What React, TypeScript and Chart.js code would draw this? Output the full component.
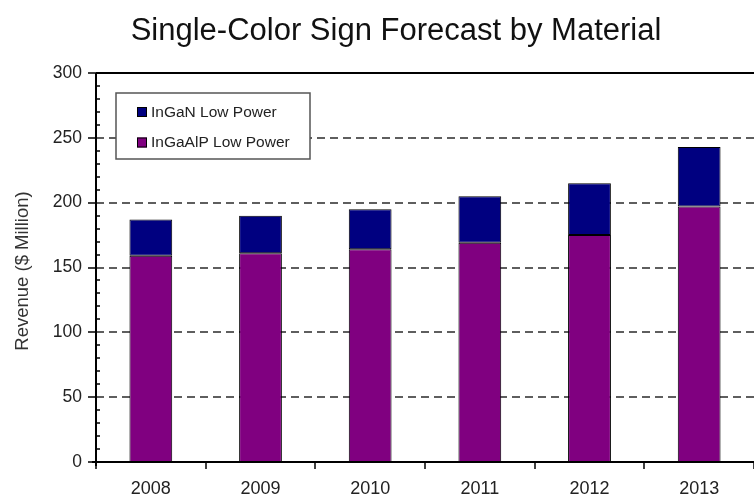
import React, { useEffect, useRef } from "react";
import { Chart, registerables } from "chart.js";
Chart.register(...registerables);

const years = ["2008", "2009", "2010", "2011", "2012", "2013"];
const inGaAlPLow = [159, 161, 164, 169, 175, 197];
const inGaNLow = [28, 29, 31, 36, 40, 46];
const yMajorTicks = [0, 50, 100, 150, 200, 250, 300];
const chartTitle = "Single-Color Sign Forecast by Material";
const yAxisTitle = "Revenue ($ Million)";
const legendLabels = ["InGaN Low Power", "InGaAlP Low Power"];
const colorInGaN = "#000080";
const colorInGaAlP = "#800080";

const FONT = '"Liberation Sans", Arial, Helvetica, sans-serif';

export default function App() {
  const ref = useRef<HTMLCanvasElement>(null);

  useEffect(() => {
    if (!ref.current) return;

    const decor = {
      id: "decor",
      beforeDatasetsDraw(chart: any) {
        const { ctx, chartArea: a, scales } = chart;
        const y = scales.y;
        ctx.save();
        ctx.strokeStyle = "#5e5e5e";
        ctx.lineWidth = 2;
        ctx.setLineDash([8, 5]);
        for (const v of yMajorTicks) {
          if (v === 0 || v === 300) continue;
          const py = Math.round(y.getPixelForValue(v));
          ctx.beginPath();
          ctx.moveTo(a.left, py);
          ctx.lineTo(a.right, py);
          ctx.stroke();
        }
        ctx.restore();
      },
      afterDatasetsDraw(chart: any) {
        const { ctx, chartArea: a, scales, width } = chart;
        const x = scales.x;
        const y = scales.y;
        ctx.save();
        ctx.setLineDash([]);
        ctx.strokeStyle = "#000";
        ctx.lineWidth = 2;
        const top = Math.round(y.getPixelForValue(300));
        const bot = Math.round(y.getPixelForValue(0));
        ctx.beginPath();
        ctx.moveTo(a.left, top);
        ctx.lineTo(width, top);
        ctx.stroke();
        ctx.beginPath();
        ctx.moveTo(a.left, top);
        ctx.lineTo(a.left, bot + 4);
        ctx.stroke();
        ctx.beginPath();
        ctx.moveTo(a.left - 4, bot);
        ctx.lineTo(width, bot);
        ctx.stroke();
        ctx.lineWidth = 1.5;
        for (const v of yMajorTicks) {
          const py = Math.round(y.getPixelForValue(v));
          ctx.beginPath();
          ctx.moveTo(a.left - 8, py);
          ctx.lineTo(a.left, py);
          ctx.stroke();
        }
        for (let v = 10; v < 300; v += 10) {
          if (v % 50 === 0) continue;
          const py = Math.round(y.getPixelForValue(v));
          ctx.beginPath();
          ctx.moveTo(a.left, py);
          ctx.lineTo(a.left + 4, py);
          ctx.stroke();
        }
        const half = (x.getPixelForValue(1) - x.getPixelForValue(0)) / 2;
        for (let i = 0; i <= years.length; i++) {
          const px = Math.round(
            x.getPixelForValue(Math.min(i, years.length - 1)) + (i === years.length ? half : -half)
          );
          ctx.beginPath();
          ctx.moveTo(px, bot);
          ctx.lineTo(px, bot + 7);
          ctx.stroke();
        }

        // legend box
        const lx = 116, ly = 93, lw = 194, lh = 66;
        ctx.fillStyle = "#fff";
        ctx.fillRect(lx, ly, lw, lh);
        ctx.strokeStyle = "#555";
        ctx.lineWidth = 1.5;
        ctx.strokeRect(lx, ly, lw, lh);
        const items = [
          { label: legendLabels[0], color: colorInGaN, cy: 112 },
          { label: legendLabels[1], color: colorInGaAlP, cy: 142.5 },
        ];
        ctx.font = `15.5px ${FONT}`;
        ctx.textBaseline = "middle";
        ctx.textAlign = "left";
        for (const it of items) {
          ctx.fillStyle = it.color;
          ctx.fillRect(137, it.cy - 5, 10, 10);
          ctx.strokeStyle = "#000";
          ctx.lineWidth = 1;
          ctx.strokeRect(137.5, it.cy - 4.5, 9, 9);
          ctx.fillStyle = "#222";
          ctx.fillText(it.label, 151, it.cy + 0.5);
        }

        // title
        ctx.font = `31px ${FONT}`;
        ctx.fillStyle = "#111";
        ctx.textAlign = "center";
        ctx.textBaseline = "alphabetic";
        ctx.fillText(chartTitle, 396, 40);

        // y axis title
        ctx.save();
        ctx.translate(23, 271);
        ctx.rotate(-Math.PI / 2);
        ctx.font = `18.5px ${FONT}`;
        ctx.fillStyle = "#333";
        ctx.textAlign = "center";
        ctx.textBaseline = "middle";
        ctx.fillText(yAxisTitle, 0, 0);
        ctx.restore();

        ctx.restore();
      },
    };

    const chart = new Chart(ref.current, {
      type: "bar",
      data: {
        labels: years,
        datasets: [
          {
            label: legendLabels[1],
            data: inGaAlPLow,
            backgroundColor: colorInGaAlP,
            borderColor: "#000",
            borderWidth: 1,
            borderSkipped: false,
          },
          {
            label: legendLabels[0],
            data: inGaNLow,
            backgroundColor: colorInGaN,
            borderColor: "#000",
            borderWidth: 1,
            borderSkipped: false,
          },
        ],
      },
      options: {
        animation: false,
        responsive: false,
        maintainAspectRatio: false,
        layout: { padding: { top: 73, right: -9, left: 0, bottom: 0 } },
        plugins: {
          legend: { display: false },
          title: { display: false },
          tooltip: { enabled: false },
        },
        datasets: {
          bar: { categoryPercentage: 1, barPercentage: 0.39 },
        },
        scales: {
          x: {
            stacked: true,
            grid: { display: false, drawTicks: false },
            border: { display: false },
            ticks: {
              padding: 16,
              color: "#222",
              font: { family: FONT, size: 18 },
              maxRotation: 0,
            },
            afterFit: (s: any) => {
              s.height = 33;
            },
          },
          y: {
            stacked: true,
            min: 0,
            max: 300,
            grid: { display: false, drawTicks: false },
            border: { display: false },
            ticks: {
              stepSize: 50,
              padding: 14,
              color: "#222",
              font: { family: FONT, size: 17.5 },
            },
            afterFit: (s: any) => {
              s.width = 96;
            },
          },
        },
      },
      plugins: [decor],
    });

    return () => chart.destroy();
  }, []);

  return (
    <div style={{ position: "fixed", left: 0, top: 0, width: 754, height: 495, background: "#fff" }}>
      <canvas ref={ref} width={754} height={495} style={{ width: 754, height: 495, display: "block" }} />
    </div>
  );
}
